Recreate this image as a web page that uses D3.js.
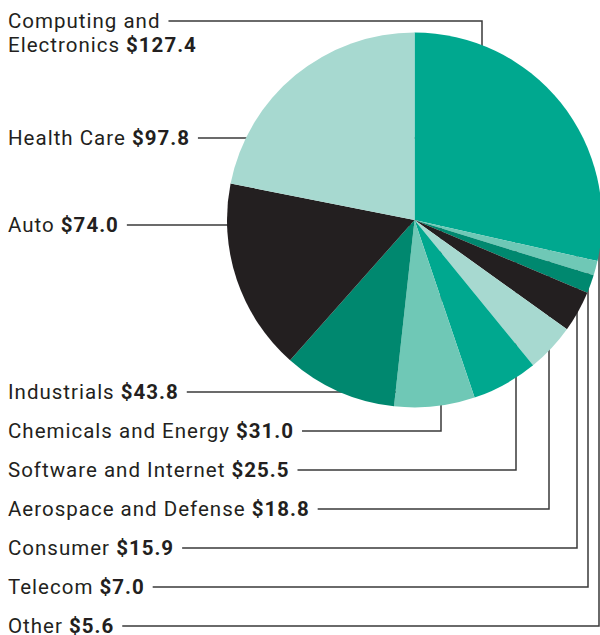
<!DOCTYPE html>
<html>
<head>
<meta charset="utf-8">
<script src="https://cdn.jsdelivr.net/npm/d3@7"></script>
<style>
  body { margin: 0; background: #fff; }
  text { font-family: Roboto, "Noto Sans", sans-serif; fill: #231f20; letter-spacing: 1px; }
</style>
</head>
<body>
<div id="chart"></div>
<script>
document.addEventListener("DOMContentLoaded", function () {
  const width = 600,
    height = 635;

  // Data, in pie order (clockwise from 12 o'clock)
  const categories = [
    "Computing and Electronics",
    "Other",
    "Telecom",
    "Consumer",
    "Aerospace and Defense",
    "Software and Internet",
    "Chemicals and Energy",
    "Industrials",
    "Auto",
    "Health Care"
  ];
  const values = [127.4, 5.6, 7.0, 15.9, 18.8, 25.5, 31.0, 43.8, 74.0, 97.8];
  const colors = [
    "#00a88f", "#6fc8b6", "#00886f", "#231f20", "#a7d9d0",
    "#00a88f", "#6fc8b6", "#00886f", "#231f20", "#a7d9d0"
  ];

  // Label placement (annotation layout, not data)
  const labelY = [21, 626, 587, 548, 509, 470, 431, 392, 225, 138];
  const elbowX = [482, 599, 588, 577, 549, 516, 441, null, null, null];

  const cx = 414.5,
    cy = 220,
    radius = 187.5,
    fontSize = 20.5;

  const svg = d3
    .select("#chart")
    .append("svg")
    .attr("width", width)
    .attr("height", height);

  const data = categories.map((c, i) => ({ name: c, value: values[i], i: i }));

  const pie = d3.pie().sort(null).value((d) => d.value);
  const arc = d3.arc().innerRadius(0).outerRadius(radius);

  const lineLayer = svg.append("g");
  const pieLayer = svg.append("g").attr("transform", `translate(${cx},${cy})`);
  const textLayer = svg.append("g");

  // Labels
  data.forEach((d) => {
    const y = labelY[d.i];
    let endX;
    if (d.i === 0) {
      // two-line label
      const t1 = textLayer
        .append("text")
        .attr("x", 8)
        .attr("y", y)
        .attr("dy", "0.35em")
        .attr("font-size", fontSize)
        .text("Computing and");
      textLayer
        .append("text")
        .attr("x", 8)
        .attr("y", y + 24)
        .attr("dy", "0.35em")
        .attr("font-size", fontSize)
        .call((t) => {
          t.append("tspan").text("Electronics ");
          t.append("tspan").attr("font-weight", "bold").text("$" + d.value.toFixed(1));
        });
      endX = 8 + t1.node().getComputedTextLength();
    } else {
      const t = textLayer
        .append("text")
        .attr("x", 8)
        .attr("y", y)
        .attr("dy", "0.35em")
        .attr("font-size", fontSize);
      t.append("tspan").text(d.name + " ");
      t.append("tspan").attr("font-weight", "bold").text("$" + d.value.toFixed(1));
      endX = 8 + t.node().getComputedTextLength();
    }

    // Leader line, drawn under the pie so it stops at the slice edge
    const x0 = endX + 8;
    const pts = elbowX[d.i] === null
      ? [[x0, y], [cx, y]]
      : [[x0, y], [elbowX[d.i], y], [elbowX[d.i], cy]];
    lineLayer
      .append("path")
      .attr("d", d3.line()(pts))
      .attr("fill", "none")
      .attr("stroke", "#3a3a3a")
      .attr("stroke-width", 1.5);
  });

  // Pie slices
  pieLayer
    .selectAll("path")
    .data(pie(data))
    .join("path")
    .attr("d", arc)
    .attr("fill", (d) => colors[d.data.i]);
});
</script>
</body>
</html>
